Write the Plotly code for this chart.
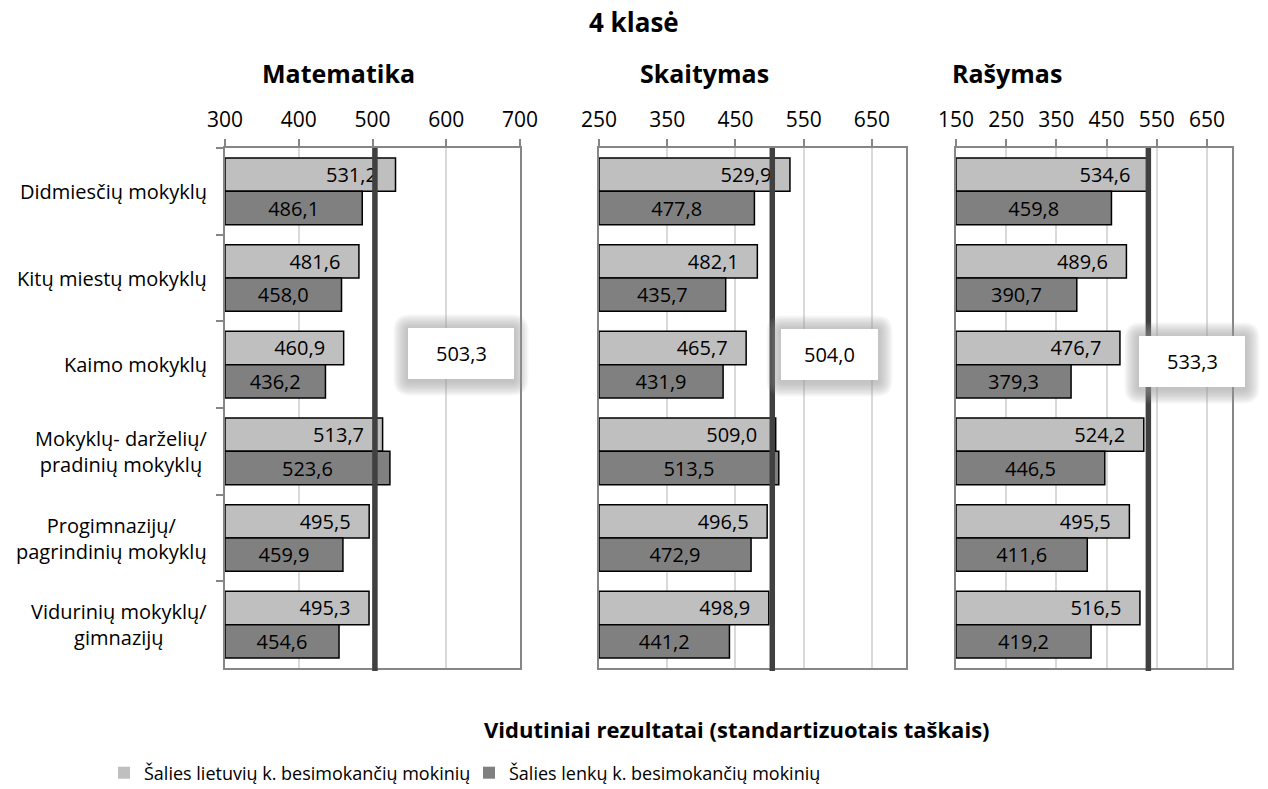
import plotly.graph_objects as go

W, H = 1268, 789
FONT = "Open Sans"

categories = [
    "Didmiesčių mokyklų",
    "Kitų miestų mokyklų",
    "Kaimo mokyklų",
    "Mokyklų- darželių/<br>pradinių mokyklų",
    "Progimnazijų/<br>pagrindinių mokyklų",
    "Vidurinių mokyklų/<br>gimnazijų",
]
subjects = ["Matematika", "Skaitymas", "Rašymas"]
lt_math = [531.2, 481.6, 460.9, 513.7, 495.5, 495.3]
pl_math = [486.1, 458.0, 436.2, 523.6, 459.9, 454.6]
lt_read = [529.9, 482.1, 465.7, 509.0, 496.5, 498.9]
pl_read = [477.8, 435.7, 431.9, 513.5, 472.9, 441.2]
lt_write = [534.6, 489.6, 476.7, 524.2, 495.5, 516.5]
pl_write = [459.8, 390.7, 379.3, 446.5, 411.6, 419.2]
averages = [503.3, 504.0, 533.3]
x_ranges = [(300, 700), (250, 700), (150, 700)]
x_ticks = [[300, 400, 500, 600, 700], [250, 350, 450, 550, 650], [150, 250, 350, 450, 550, 650]]
series_names = ["Šalies lietuvių k. besimokančių mokinių", "Šalies lenkų k. besimokančių mokinių"]
main_title = "4 klasė"
axis_title = "Vidutiniai rezultatai (standartizuotais taškais)"

LT_COLOR = "#BFBFBF"
PL_COLOR = "#808080"

def px2x(p):
    return p / W

def px2y(p):
    return 1 - p / H

def fmt(v):
    return f"{v:.1f}".replace(".", ",")

# panel domains in pixels
panel_px = [(225, 520), (599, 906), (956, 1232)]
top_px, bot_px = 148, 668

fig = go.Figure()
data = [(lt_math, pl_math), (lt_read, pl_read), (lt_write, pl_write)]

for i, (lt, pl) in enumerate(data):
    xa = "x" if i == 0 else f"x{i+1}"
    ya = "y" if i == 0 else f"y{i+1}"
    base = x_ranges[i][0]
    fig.add_trace(go.Bar(
        y=categories, x=[v - base for v in lt], base=base, orientation="h", xaxis=xa, yaxis=ya,
        offsetgroup="lt",
        marker=dict(color=LT_COLOR, line=dict(color="#000000", width=1.5)),
        text=[fmt(v) + "\u00a0\u00a0\u00a0" for v in lt], textposition="inside",
        insidetextanchor="end", textfont=dict(family=FONT, size=20, color="#000000"),
        showlegend=False, name=series_names[0],
    ))
    fig.add_trace(go.Bar(
        y=categories, x=[v - base for v in pl], base=base, orientation="h", xaxis=xa, yaxis=ya,
        offsetgroup="pl",
        marker=dict(color=PL_COLOR, line=dict(color="#000000", width=1.5)),
        text=[fmt(v) for v in pl], textposition="inside",
        insidetextanchor="middle", textfont=dict(family=FONT, size=20, color="#000000"),
        showlegend=False, name=series_names[1],
    ))

# legend-only traces
for name, col, og in zip(series_names, [LT_COLOR, PL_COLOR], ["lt", "pl"]):
    fig.add_trace(go.Bar(y=[None], x=[None], orientation="h", name=name, offsetgroup=og,
                         marker=dict(color=col, line=dict(width=0)), showlegend=True))

layout = dict(
    width=W, height=H, margin=dict(l=0, r=0, t=0, b=0, autoexpand=False),
    paper_bgcolor="white", plot_bgcolor="white",
    barmode="group", bargap=0.23, bargroupgap=0,
    font=dict(family=FONT, size=20, color="#000000"),
    showlegend=True,
    legend=dict(orientation="h", x=px2x(104), y=px2y(773), xanchor="left", yanchor="middle",
                entrywidth=320, entrywidthmode="pixels",
                font=dict(family=FONT, size=18, color="#000000"), traceorder="normal"),
)

for i in range(3):
    xk = "xaxis" if i == 0 else f"xaxis{i+1}"
    yk = "yaxis" if i == 0 else f"yaxis{i+1}"
    ya_ref = "y" if i == 0 else f"y{i+1}"
    l, r = panel_px[i]
    layout[xk] = dict(
        domain=[px2x(l), px2x(r)], range=list(x_ranges[i]), anchor=ya_ref, side="top",
        tickvals=x_ticks[i], ticktext=[str(t) for t in x_ticks[i]],
        showgrid=True, gridcolor="#D9D9D9", gridwidth=1.5,
        showline=True, linecolor="#868686", linewidth=2, mirror=True,
        ticks="outside", ticklen=7, tickcolor="#868686", tickwidth=1.5,
        tickfont=dict(family=FONT, size=21, color="#000000"), ticklabelstandoff=4,
        zeroline=False, fixedrange=True,
    )
    ydict = dict(
        domain=[px2y(bot_px), px2y(top_px)], anchor="x" if i == 0 else f"x{i+1}",
        autorange="reversed", type="category",
        showline=True, linecolor="#868686", linewidth=2, mirror=True,
        showgrid=False, showticklabels=False, fixedrange=True,
    )
    if i == 0:
        ydict.update(ticks="outside", ticklen=7, tickcolor="#868686", tickwidth=1.5,
                     tickson="boundaries")
    else:
        ydict.update(ticks="")
    layout[yk] = ydict

fig.update_layout(**layout)

shapes = []
annotations = []

# average lines
for i, avg in enumerate(averages):
    xa = "x" if i == 0 else f"x{i+1}"
    shapes.append(dict(type="line", xref=xa, yref="paper", x0=avg, x1=avg,
                       y0=px2y(671), y1=px2y(top_px),
                       line=dict(color="#404040", width=5.5), layer="above"))

# glow boxes with average values
box_px = [(408, 514, 328, 379), (781, 878, 329, 380), (1139, 1245, 336, 387)]

def rrect(x0, x1, y0, y1, r):
    X = lambda p: px2x(p)
    Y = lambda p: px2y(p)
    return (f"M{X(x0+r)},{Y(y0)} L{X(x1-r)},{Y(y0)} Q{X(x1)},{Y(y0)} {X(x1)},{Y(y0+r)} "
            f"L{X(x1)},{Y(y1-r)} Q{X(x1)},{Y(y1)} {X(x1-r)},{Y(y1)} "
            f"L{X(x0+r)},{Y(y1)} Q{X(x0)},{Y(y1)} {X(x0)},{Y(y1-r)} "
            f"L{X(x0)},{Y(y0+r)} Q{X(x0)},{Y(y0)} {X(x0+r)},{Y(y0)} Z")

for i, avg in enumerate(averages):
    x0, x1, y0, y1 = box_px[i]
    for k in range(9, 0, -1):
        e = k * 1.6
        shapes.append(dict(type="path", xref="paper", yref="paper",
                           path=rrect(x0 - e, x1 + e, y0 - e + 1, y1 + e + 2, e + 2),
                           fillcolor="rgba(150,150,150,0.09)", line=dict(width=0), layer="above"))
    shapes.append(dict(type="rect", xref="paper", yref="paper",
                       x0=px2x(x0), x1=px2x(x1), y0=px2y(y1), y1=px2y(y0),
                       fillcolor="white", line=dict(width=0), layer="above"))
    annotations.append(dict(xref="paper", yref="paper", x=px2x((x0 + x1) / 2), y=px2y((y0 + y1) / 2),
                            text=fmt(avg), showarrow=False, xanchor="center", yanchor="middle",
                            font=dict(family=FONT, size=20, color="#000000")))

# category labels (center-aligned multi-line)
for c in categories:
    annotations.append(dict(xref="paper", yref="y", x=px2x(209), y=c, text=c, showarrow=False,
                            xanchor="right", yanchor="middle", align="center",
                            font=dict(family=FONT, size=20, color="#000000")))

# titles
annotations.append(dict(xref="paper", yref="paper", x=px2x(634), y=px2y(22), text=f"<b>{main_title}</b>",
                        showarrow=False, xanchor="center", yanchor="middle",
                        font=dict(family=FONT, size=26, color="#000000")))
for cx, s in zip([338, 704, 1007], subjects):
    annotations.append(dict(xref="paper", yref="paper", x=px2x(cx), y=px2y(73), text=f"<b>{s}</b>",
                            showarrow=False, xanchor="center", yanchor="middle",
                            font=dict(family=FONT, size=25, color="#000000")))
annotations.append(dict(xref="paper", yref="paper", x=px2x(737), y=px2y(729), text=f"<b>{axis_title}</b>",
                        showarrow=False, xanchor="center", yanchor="middle",
                        font=dict(family=FONT, size=22, color="#000000")))

fig.update_layout(shapes=shapes, annotations=annotations)
fig.write_html("out.html", config={"displayModeBar": False},
               post_script="document.body.style.margin='0px';")
